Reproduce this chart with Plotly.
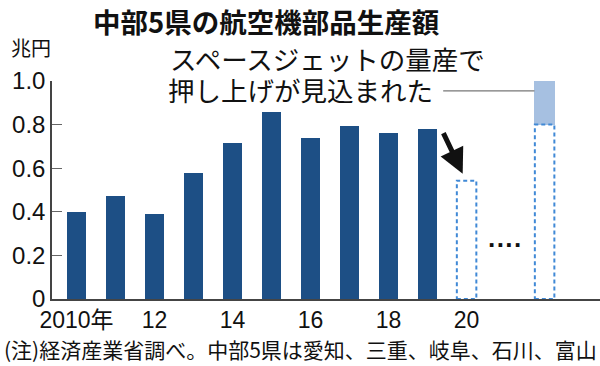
import plotly.graph_objects as go

# ---- data ----
years = [2010, 2011, 2012, 2013, 2014, 2015, 2016, 2017, 2018, 2019]
values = [0.40, 0.474, 0.389, 0.577, 0.717, 0.856, 0.740, 0.795, 0.763, 0.780]
forecast_years = [2020, 2022]
forecast_values = [0.543, 0.80]
boost_years = [2022]
boost_base = [0.80]
boost_top = [1.0]
tick_years = [2010, 2012, 2014, 2016, 2018, 2020]
tick_labels = ["2010年", "12", "14", "16", "18", "20"]
y_ticks = [0, 0.2, 0.4, 0.6, 0.8, 1.0]
y_tick_labels = ["0", "0.2", "0.4", "0.6", "0.8", "1.0"]

title = "中部5県の航空機部品生産額"
unit = "兆円"
note_line1 = "スペースジェットの量産で"
note_line2 = "押し上げが見込まれた"
source = "(注)経済産業省調べ。中部5県は愛知、三重、岐阜、石川、富山"

DARK = "#1d4f85"
LIGHT = "#a6c0e1"
DASH = "#4089d6"
NUM_FONT = "Liberation Sans, Arial, Noto Sans CJK JP"
JP_FONT = "Noto Sans CJK JP, Liberation Sans"

fig = go.Figure()
fig.add_trace(go.Bar(x=years, y=values, width=0.49, marker=dict(color=DARK, line=dict(width=0)),
                     hoverinfo="skip", showlegend=False))
fig.add_trace(go.Bar(x=boost_years, y=[t - b for t, b in zip(boost_top, boost_base)], base=boost_base,
                     width=0.52, marker=dict(color=LIGHT, line=dict(width=0)),
                     hoverinfo="skip", showlegend=False, cliponaxis=False))

shapes = []
for yr, v in zip(forecast_years, forecast_values):
    shapes.append(dict(type="rect", xref="x", yref="y", x0=yr - 0.25, x1=yr + 0.25, y0=0, y1=v,
                       line=dict(color=DASH, width=2, dash="4px,3px"), fillcolor="rgba(0,0,0,0)",
                       layer="above"))
# leader line from note to boosted bar
shapes.append(dict(type="line", xref="x", yref="y", x0=2019.4, x1=boost_years[0] - 0.26,
                   y0=0.955, y1=0.955, line=dict(color="#777", width=1.2)))
fig.update_layout(shapes=shapes)

annotations = [
    dict(text="<b>" + title + "</b>", xref="paper", yref="paper", x=(91 - 52) / 548, y=(299 - 21) / 218,
         xanchor="left", yanchor="middle", showarrow=False, font=dict(family=JP_FONT, size=27.5, color="#111")),
    dict(text=unit, xref="paper", yref="paper", x=(9 - 52) / 548, y=(299 - 47) / 218,
         xanchor="left", yanchor="middle", showarrow=False, font=dict(family=JP_FONT, size=20, color="#111")),
    dict(text=note_line1, xref="paper", yref="paper", x=(168 - 52) / 548, y=(299 - 59) / 218,
         xanchor="left", yanchor="middle", showarrow=False, font=dict(family=JP_FONT, size=26.5, color="#111")),
    dict(text=note_line2, xref="paper", yref="paper", x=(166 - 52) / 548, y=(299 - 89) / 218,
         xanchor="left", yanchor="middle", showarrow=False, font=dict(family=JP_FONT, size=26.5, color="#111")),
    dict(text=source, xref="paper", yref="paper", x=(2 - 52) / 548, y=(299 - 349) / 218,
         xanchor="left", yanchor="middle", showarrow=False, font=dict(family=JP_FONT, size=21, color="#111")),
    dict(text="<b>····</b>", xref="x", yref="y", x=2021, y=0.25, showarrow=False,
         font=dict(family=NUM_FONT, size=26, color="#111")),
    dict(text="", xref="x", yref="y", x=2019.9, y=0.575, ax=-20, ay=-42, showarrow=True,
         arrowhead=2, arrowsize=1, arrowwidth=5, arrowcolor="#111"),
]
fig.update_layout(annotations=annotations)

fig.update_layout(
    width=600, height=366,
    margin=dict(l=52, r=0, t=81, b=67, autoexpand=False),
    paper_bgcolor="white", plot_bgcolor="white",
    bargap=0, barmode="overlay",
    xaxis=dict(range=[2009.372, 2023.42], showline=True, linecolor="#444", linewidth=1.5,
               ticks="", showgrid=False, zeroline=False, tickmode="array", automargin=False,
               tickvals=tick_years, ticktext=tick_labels,
               tickfont=dict(family=NUM_FONT, size=23, color="#111"), fixedrange=True),
    yaxis=dict(range=[0, 1.0], showline=True, linecolor="#444", linewidth=1.5,
               ticks="inside", ticklen=10, tickcolor="#666", tickwidth=1, automargin=False,
               showgrid=False, zeroline=False, tickmode="array",
               tickvals=y_ticks, ticktext=y_tick_labels,
               tickfont=dict(family=NUM_FONT, size=24, color="#111"), fixedrange=True),
)

fig.write_html("out.html", config={"displayModeBar": False},
               post_script="document.body.style.margin='0';document.body.style.overflow='hidden';")
